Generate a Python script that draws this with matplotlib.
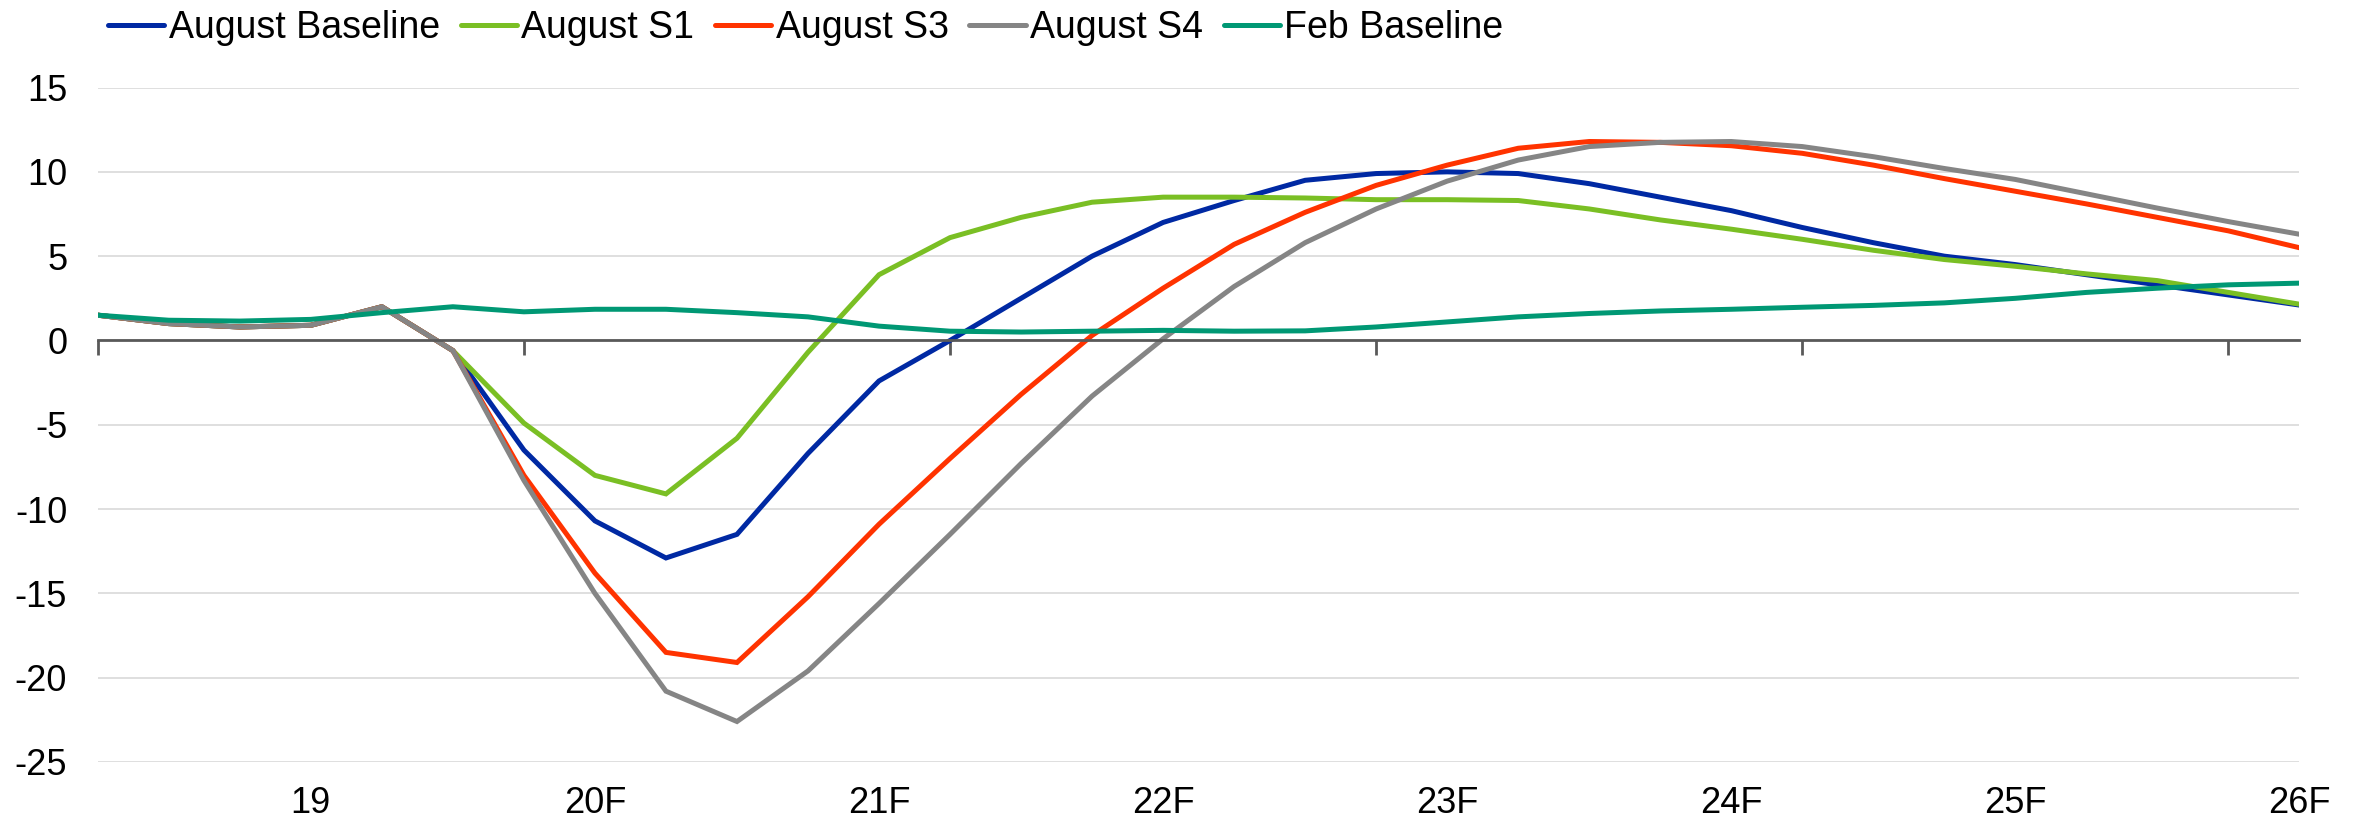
import matplotlib
matplotlib.use("Agg")
import matplotlib.pyplot as plt

plt.rcParams['font.family'] = ['Liberation Sans', 'DejaVu Sans']
plt.rcParams['axes.unicode_minus'] = False

# quarterly points, labelled at Q4 of each year
quarter_labels = ['', '', '', '19', '', '', '', '20F', '', '', '', '21F',
                  '', '', '', '22F', '', '', '', '23F', '', '', '', '24F',
                  '', '', '', '25F', '', '', '', '26F']

aug_baseline = [1.5, 1.0, 0.8, 0.9, 2.0, -0.6, -6.5, -10.7, -12.9, -11.5, -6.7, -2.4,
                0.0, 2.5, 5.0, 7.0, 8.3, 9.5, 9.9, 10.0, 9.9, 9.3, 8.5, 7.7,
                6.7, 5.8, 5.0, 4.5, 3.9, 3.3, 2.7, 2.1]
aug_s1 = [1.5, 1.0, 0.8, 0.9, 2.0, -0.6, -4.9, -8.0, -9.1, -5.8, -0.7, 3.9,
          6.1, 7.3, 8.2, 8.5, 8.5, 8.45, 8.35, 8.35, 8.3, 7.8, 7.15, 6.6,
          6.0, 5.35, 4.8, 4.4, 3.95, 3.55, 2.85, 2.15]
aug_s3 = [1.5, 1.0, 0.8, 0.9, 2.0, -0.6, -8.0, -13.8, -18.5, -19.1, -15.2, -10.9,
          -7.0, -3.2, 0.3, 3.1, 5.7, 7.6, 9.2, 10.4, 11.4, 11.8, 11.75, 11.55,
          11.1, 10.4, 9.6, 8.85, 8.1, 7.3, 6.5, 5.5]
aug_s4 = [1.5, 1.0, 0.8, 0.9, 2.0, -0.6, -8.3, -15.0, -20.8, -22.6, -19.6, -15.6,
          -11.5, -7.3, -3.3, 0.1, 3.2, 5.8, 7.8, 9.45, 10.7, 11.5, 11.75, 11.8,
          11.5, 10.9, 10.2, 9.55, 8.7, 7.85, 7.05, 6.3]
feb_baseline = [1.5, 1.2, 1.15, 1.25, 1.65, 2.0, 1.7, 1.85, 1.85, 1.65, 1.4, 0.85,
                0.55, 0.5, 0.55, 0.6, 0.55, 0.57, 0.8, 1.1, 1.4, 1.6, 1.75, 1.85,
                1.97, 2.08, 2.23, 2.5, 2.85, 3.1, 3.3, 3.4]

series = [
    ("August Baseline", aug_baseline, "#0029a3"),
    ("August S1", aug_s1, "#7abf24"),
    ("August S3", aug_s3, "#ff3300"),
    ("August S4", aug_s4, "#858585"),
    ("Feb Baseline", feb_baseline, "#009874"),
]

x = list(range(len(quarter_labels)))

fig = plt.figure(figsize=(23.56, 8.26), dpi=100)
ax = fig.add_axes([0.0415, 0.0775, 0.9345, 0.8165])

for name, vals, col in series:
    ax.plot(x, vals, color=col, lw=3.6, label=name, solid_joinstyle='miter')

ax.set_xlim(0, len(x) - 1)
ax.set_ylim(-25, 15)
ax.set_yticks(range(-25, 16, 5))
ax.yaxis.grid(True, color="#d9d9d9", lw=1.2)
ax.set_axisbelow(True)
ax.tick_params(axis='y', length=0, pad=22, labelsize=26)

for s in ['top', 'right', 'left']:
    ax.spines[s].set_visible(False)

# zero line carries the year-boundary tick marks
ax.spines['bottom'].set_position(('data', 0))
ax.spines['bottom'].set_color("#595959")
ax.spines['bottom'].set_linewidth(2.0)
ax.set_xticks(x[::6])
ax.set_xticklabels([])
ax.tick_params(axis='x', length=11, width=2.0, color="#595959", direction='out')

# category labels sit under the plot area
lab_pos = [i for i, t in enumerate(quarter_labels) if t]
sec = ax.secondary_xaxis(0.0)
sec.set_xticks(lab_pos)
sec.set_xticklabels([quarter_labels[i] for i in lab_pos])
sec.tick_params(length=0, pad=17, labelsize=26)
sec.spines['bottom'].set_visible(False)

leg = fig.legend(loc='center left', bbox_to_anchor=(108 / 2356, 1 - 28 / 826),
                 ncol=5, frameon=False, fontsize=27, handlelength=1.5,
                 handletextpad=0.12, columnspacing=0.55, borderpad=0,
                 borderaxespad=0)
for h in leg.legend_handles:
    h.set_linewidth(3.6)
    h.set_solid_capstyle('round')

fig.savefig("out.png", dpi=100, facecolor="white")
